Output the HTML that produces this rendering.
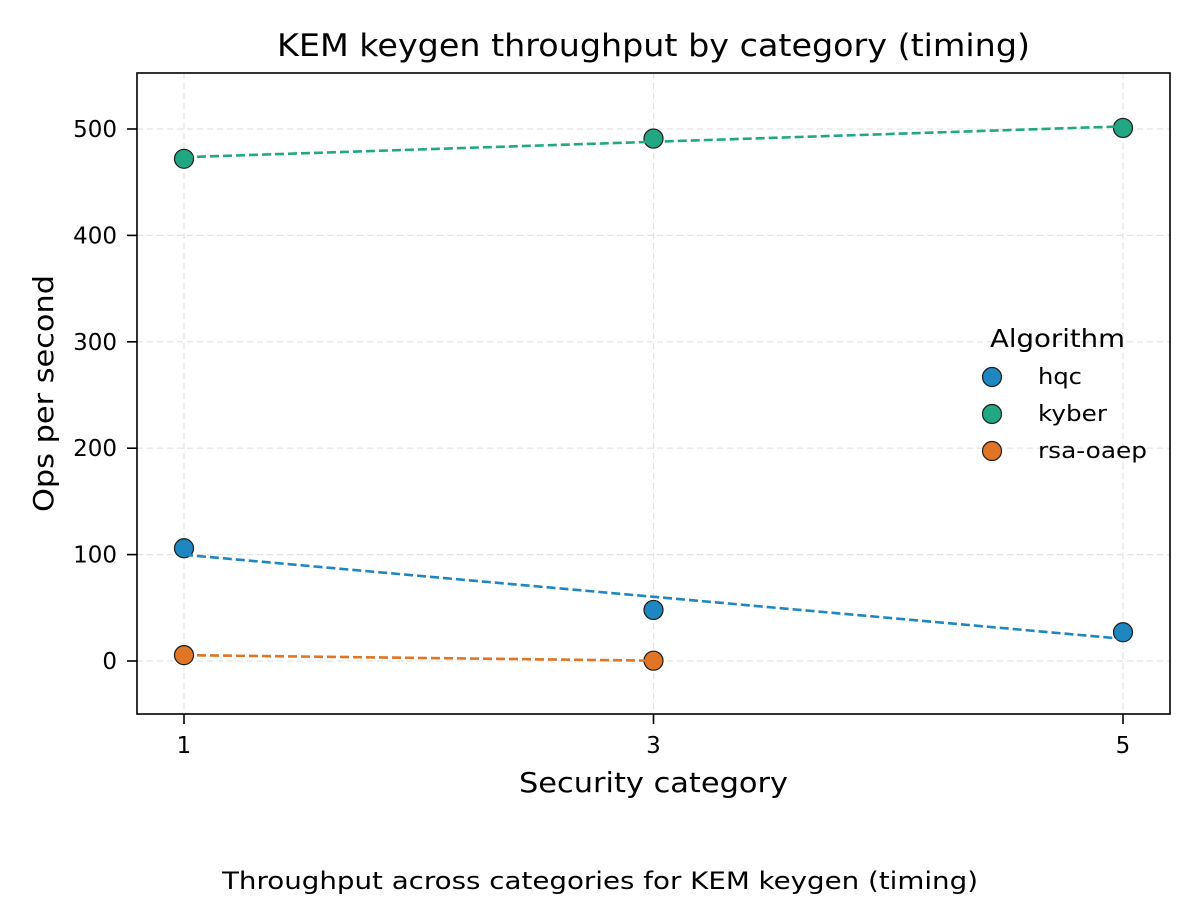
<!DOCTYPE html>
<html><head><meta charset="utf-8"><style>
body{margin:0;background:#fff;}
svg text{font-family:"DejaVu Sans","Liberation Sans",sans-serif;fill:#000;}
</style></head><body>
<svg id="chart" width="1200" height="900" xmlns="http://www.w3.org/2000/svg">
<rect width="1200" height="900" fill="#fff"/>
<g id="grid"></g>
<g id="pts"></g>
<g id="lines"></g>
<rect x="137" y="73" width="1033" height="641" fill="none" stroke="#000" stroke-width="1.6"/>
<g id="axes"></g>
<text x="277" y="56" font-size="31" textLength="753" lengthAdjust="spacingAndGlyphs">KEM keygen throughput by category (timing)</text>
<text x="519" y="792" font-size="28" textLength="269" lengthAdjust="spacingAndGlyphs">Security category</text>
<text transform="translate(53,512) rotate(-90)" font-size="28" textLength="237" lengthAdjust="spacingAndGlyphs">Ops per second</text>
<text x="222" y="889" font-size="24" textLength="756" lengthAdjust="spacingAndGlyphs">Throughput across categories for KEM keygen (timing)</text>
<g id="legend">
<text x="990" y="347" font-size="25" textLength="135" lengthAdjust="spacingAndGlyphs">Algorithm</text>
</g>
</svg>
<script>
const categories=[1,3,5];
const seriesNames=["hqc","kyber","rsa-oaep"];
const hqcValues=[106,48,27];
const kyberValues=[472,491,501];
const rsaValues=[5.5,0.3];
const yTicks=[0,100,200,300,400,500];
const xTicks=[1,3,5];
const colors=["#1f87bf","#21a883","#e07525"];
const legendWidths=[44,69,109];
const allSeries=[hqcValues,kyberValues,rsaValues];
const NS="http://www.w3.org/2000/svg";
const X=v=>184+(v-1)*234.75;
const Y=v=>661-v*1.064;
function mk(t,a,p){const e=document.createElementNS(NS,t);for(const k in a)e.setAttribute(k,a[k]);p.appendChild(e);return e;}
const grid=document.getElementById('grid'),axes=document.getElementById('axes');
yTicks.forEach(t=>{
 const g=mk('line',{x1:137,x2:1170,y1:Y(t),y2:Y(t),stroke:'#e3e3e3','stroke-dasharray':'6,4','stroke-width':1.2},grid);
 
 
 mk('line',{x1:127,x2:137,y1:Y(t),y2:Y(t),stroke:'#000','stroke-width':1.6},axes);
 const tx=mk('text',{x:117,y:Y(t)+8,'font-size':23,'text-anchor':'end'},axes);tx.textContent=t;
 
 
});
xTicks.forEach(t=>{
 const g=mk('line',{x1:X(t),x2:X(t),y1:73,y2:714,stroke:'#e3e3e3','stroke-dasharray':'6,4','stroke-width':1.2},grid);
 
 
 mk('line',{x1:X(t),x2:X(t),y1:714,y2:724,stroke:'#000','stroke-width':1.6},axes);
 const tx=mk('text',{x:X(t),y:753,'font-size':23,'text-anchor':'middle'},axes);tx.textContent=t;
 
 
});
const pts=document.getElementById('pts'),lines=document.getElementById('lines'),leg=document.getElementById('legend');
allSeries.forEach((vals,i)=>{
 const xs=categories.slice(0,vals.length);
 const n=vals.length,mx=xs.reduce((a,b)=>a+b)/n,my=vals.reduce((a,b)=>a+b)/n;
 let sxy=0,sxx=0;xs.forEach((x,j)=>{sxy+=(x-mx)*(vals[j]-my);sxx+=(x-mx)*(x-mx);});
 const b=sxy/sxx,a=my-b*mx;
 xs.forEach((x,j)=>{
  const c=mk('circle',{cx:X(x),cy:Y(vals[j]),r:9.5,fill:colors[i],stroke:'#1a1a1a','stroke-width':1.2},pts);
  
  
 });
 const x0=xs[0],x1=xs[n-1];
 const l=mk('line',{x1:X(x0),y1:Y(a+b*x0),x2:X(x1),y2:Y(a+b*x1),stroke:colors[i],'stroke-width':2.6,'stroke-dasharray':'9,4'},lines);
 
 
 const ly=377+i*37;
 const lc=mk('circle',{cx:992,cy:ly,r:9.5,fill:colors[i],stroke:'#1a1a1a','stroke-width':1.2},leg);
 
 
 const lt=mk('text',{x:1038,y:ly+7,'font-size':22,textLength:legendWidths[i],lengthAdjust:'spacingAndGlyphs'},leg);lt.textContent=seriesNames[i];
 
 
});
</script>
</body></html>
